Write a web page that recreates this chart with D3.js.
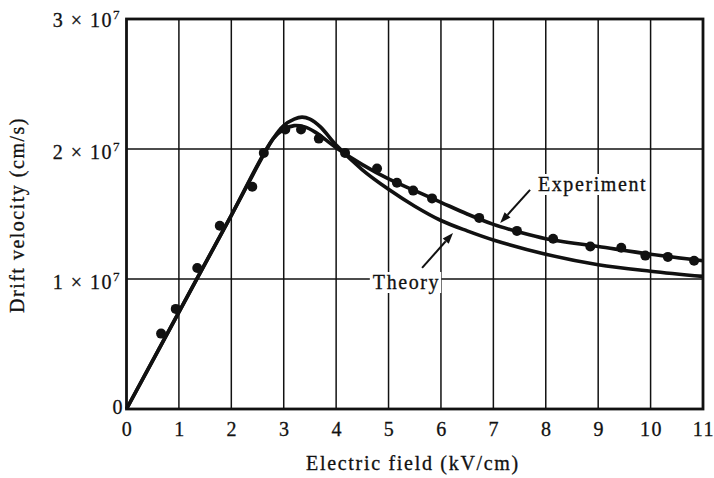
<!DOCTYPE html>
<html>
<head>
<meta charset="utf-8">
<script src="https://cdn.jsdelivr.net/npm/d3@7/dist/d3.min.js"></script>
<style>
  html, body { margin: 0; padding: 0; background: #fff; }
  svg { display: block; }
  text { font-family: "Liberation Serif", "Times New Roman", serif; fill: #111; stroke: #111; stroke-width: 0.3px; }
</style>
</head>
<body>
<svg id="chart" width="714" height="478"></svg>
<script>
// Electric field (kV/cm) and drift velocity (units of 1e7 cm/s)
const xTicks = [0, 1, 2, 3, 4, 5, 6, 7, 8, 9, 10, 11];
const yTicks = [0, 1, 2, 3];
const yTickLabels = ["0", "1 × 10", "2 × 10", "3 × 10"];
const yTickExponent = "7";

// Theoretical drift velocity curve
const theoryX = [0, 1, 2, 2.8, 3.0, 3.2, 3.35, 3.5, 3.7, 4, 4.5, 5, 5.5, 6, 6.5, 7, 8, 9, 10, 11];
const theoryY = [0, 0.745, 1.49, 2.08, 2.18, 2.23, 2.245, 2.23, 2.17, 2.03, 1.84, 1.69, 1.56, 1.45, 1.37, 1.30, 1.19, 1.11, 1.06, 1.02];

// Fitted experimental curve
const expX = [0, 1, 2, 2.8, 3.0, 3.2, 3.4, 3.6, 4, 4.5, 5, 5.5, 6, 6.5, 7, 7.5, 8, 9, 10, 11];
const expY = [0, 0.745, 1.49, 2.08, 2.15, 2.18, 2.17, 2.13, 2.01, 1.88, 1.77, 1.68, 1.59, 1.50, 1.42, 1.36, 1.31, 1.25, 1.19, 1.14];

// Measured points
const ptsX = [0.66, 0.94, 1.35, 1.78, 2.40, 2.62, 3.03, 3.33, 3.67, 4.17, 4.78, 5.16, 5.47, 5.83, 6.73, 7.45, 8.14, 8.85, 9.44, 9.90, 10.33, 10.83];
const ptsY = [0.58, 0.77, 1.085, 1.41, 1.71, 1.97, 2.15, 2.15, 2.08, 1.97, 1.85, 1.74, 1.68, 1.62, 1.47, 1.37, 1.31, 1.25, 1.24, 1.18, 1.17, 1.14];

// Callout labels: text anchor (x, baseline) and arrow (tail x, tail y, tip x, tip y)
const calloutNames = ["Experiment", "Theory"];
const calloutText = [[7.85, 1.677], [4.70, 0.923]];
const calloutArrow = [[7.70, 1.685, 7.13, 1.431], [5.64, 1.085, 6.23, 1.354]];

const svg = d3.select("#chart");
const x = d3.scaleLinear().domain([0, 11]).range([126.5, 703]);
const y = d3.scaleLinear().domain([0, 3]).range([409, 19]);

// grid lines
const g = svg.append("g");
g.selectAll("line.vg").data(xTicks.slice(1, -1)).join("line")
  .attr("x1", d => x(d)).attr("x2", d => x(d))
  .attr("y1", y(0)).attr("y2", y(3))
  .attr("stroke", "#111").attr("stroke-width", 1.5);
g.selectAll("line.hg").data(yTicks.slice(1, -1)).join("line")
  .attr("x1", x(0)).attr("x2", x(11))
  .attr("y1", d => y(d)).attr("y2", d => y(d))
  .attr("stroke", "#111").attr("stroke-width", 1.5);

// frame
svg.append("rect")
  .attr("x", x(0)).attr("y", y(3))
  .attr("width", x(11) - x(0)).attr("height", y(0) - y(3))
  .attr("fill", "none").attr("stroke", "#111").attr("stroke-width", 2.8);

// x tick labels
svg.selectAll("text.xt").data(xTicks).join("text")
  .attr("x", d => x(d) + 1).attr("y", y(0) + 27)
  .attr("text-anchor", "middle")
  .attr("font-size", 20).attr("letter-spacing", 1.5)
  .text(d => d);

// y tick labels
yTicks.forEach((v, i) => {
  const off = v === 0 ? 5 : (v === 3 ? 8 : 10);
  const t = svg.append("text")
    .attr("x", v === 0 ? 124 : 121).attr("y", y(v) + off)
    .attr("text-anchor", "end")
    .attr("font-size", 20).attr("letter-spacing", 1.5)
    .attr("xml:space", "preserve");
  t.append("tspan").text(yTickLabels[i]);
  if (v !== 0) {
    t.append("tspan").attr("font-size", 13).attr("dy", -8).text(yTickExponent);
  }
});

// axis titles
svg.append("text")
  .attr("x", 413).attr("y", 470)
  .attr("text-anchor", "middle")
  .attr("font-size", 20).attr("letter-spacing", 1.7)
  .text("Electric field (kV/cm)");
svg.append("text")
  .attr("transform", "translate(24,215) rotate(-90)")
  .attr("text-anchor", "middle")
  .attr("font-size", 20).attr("letter-spacing", 1.5)
  .text("Drift velocity (cm/s)");

// curves
const line = d3.line().x(d => x(d[0])).y(d => y(d[1])).curve(d3.curveCatmullRom.alpha(0.5));
svg.append("path").datum(d3.zip(theoryX, theoryY))
  .attr("d", line).attr("fill", "none").attr("stroke", "#111")
  .attr("stroke-width", 3.6).attr("stroke-linejoin", "round");
svg.append("path").datum(d3.zip(expX, expY))
  .attr("d", line).attr("fill", "none").attr("stroke", "#111")
  .attr("stroke-width", 3.6).attr("stroke-linejoin", "round");

// measured points
svg.selectAll("circle.pt").data(d3.zip(ptsX, ptsY)).join("circle")
  .attr("cx", d => x(d[0])).attr("cy", d => y(d[1]))
  .attr("r", 5).attr("fill", "#111");

// callouts: label on a white patch, with an arrow to its curve
calloutNames.forEach((name, i) => {
  const lg = svg.append("g");
  const bg = lg.append("rect").attr("fill", "#fff");
  const t = lg.append("text")
    .attr("x", x(calloutText[i][0])).attr("y", y(calloutText[i][1]))
    .attr("font-size", 20).attr("letter-spacing", 1.6)
    .text(name);
  const b = t.node().getBBox();
  bg.attr("x", b.x - 3).attr("y", b.y + 1).attr("width", b.width + 4).attr("height", b.height - 2);

  const [tx, ty, hx, hy] = calloutArrow[i];
  const x1 = x(tx), y1 = y(ty), x2 = x(hx), y2 = y(hy);
  const ang = Math.atan2(y2 - y1, x2 - x1);
  const L = 11, W = 4;
  const bx = x2 - L * Math.cos(ang), by = y2 - L * Math.sin(ang);
  svg.append("line")
    .attr("x1", x1).attr("y1", y1).attr("x2", bx).attr("y2", by)
    .attr("stroke", "#111").attr("stroke-width", 2);
  svg.append("path")
    .attr("d", `M${x2},${y2}L${bx + W * Math.sin(ang)},${by - W * Math.cos(ang)}L${bx - W * Math.sin(ang)},${by + W * Math.cos(ang)}Z`)
    .attr("fill", "#111");
});
</script>
</body>
</html>
